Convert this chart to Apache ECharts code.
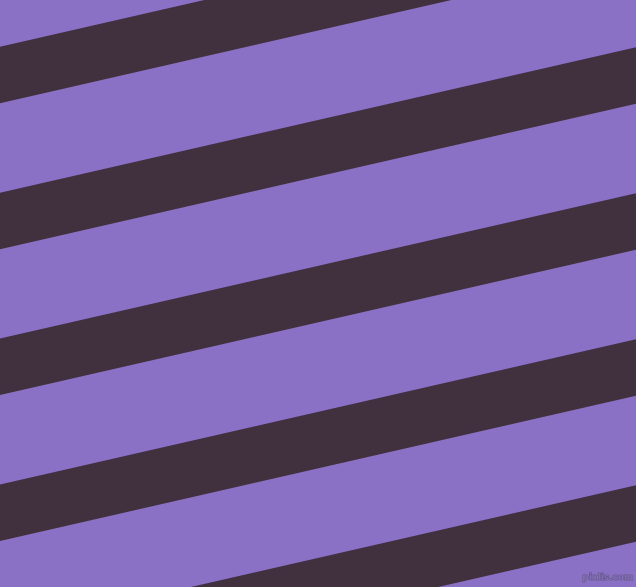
<!DOCTYPE html>
<html>
<head>
<meta charset="utf-8">
<script src="https://cdn.jsdelivr.net/npm/echarts@6/dist/echarts.min.js"></script>
<style>html,body{margin:0;padding:0;background:#8b71c6;}#c{width:636px;height:587px;}</style>
</head>
<body>
<div id="c"></div>
<script>
// Stripe edges (y in pixels from top, at the left and right borders)
const stripeNames = ['s0', 's1', 's2', 's3', 's4'];
const stripeTopAtLeft = [46.7, 192.7, 338.6, 484.6, 630.6];
const stripeTopAtRight = [-98.7, 47.3, 193.3, 339.3, 485.3];
const stripeThickness = [56.5, 56.5, 56.5, 56.5, 56.5];
const xExtent = [0, 636];
const yExtent = [0, 587];

const chart = echarts.init(document.getElementById('c'));
const data = stripeNames.map((n, i) => [stripeTopAtLeft[i], stripeTopAtRight[i], stripeThickness[i]]);

chart.setOption({
  animation: false,
  backgroundColor: '#8b71c6',
  grid: { left: 0, right: 0, top: 0, bottom: 0 },
  xAxis: { type: 'value', min: xExtent[0], max: xExtent[1], show: false },
  yAxis: { type: 'value', min: yExtent[0], max: yExtent[1], inverse: true, show: false },
  series: [{
    type: 'custom',
    clip: true,
    data: data,
    renderItem: function (params, api) {
      const yl = api.value(0), yr = api.value(1), t = api.value(2);
      const p1 = api.coord([xExtent[0], yl]);
      const p2 = api.coord([xExtent[1], yr]);
      const p3 = api.coord([xExtent[1], yr + t]);
      const p4 = api.coord([xExtent[0], yl + t]);
      return {
        type: 'polygon',
        shape: { points: [p1, p2, p3, p4] },
        style: { fill: '#41313f' }
      };
    }
  }],
  graphic: [{
    type: 'text',
    right: 2,
    bottom: 4,
    style: {
      text: 'pixlis.com',
      font: 'bold 9px "DejaVu Sans"',
      fill: 'rgba(130,110,190,0.9)',
      stroke: 'rgba(90,80,110,0.8)',
      lineWidth: 1
    }
  }]
});
</script>
</body>
</html>
